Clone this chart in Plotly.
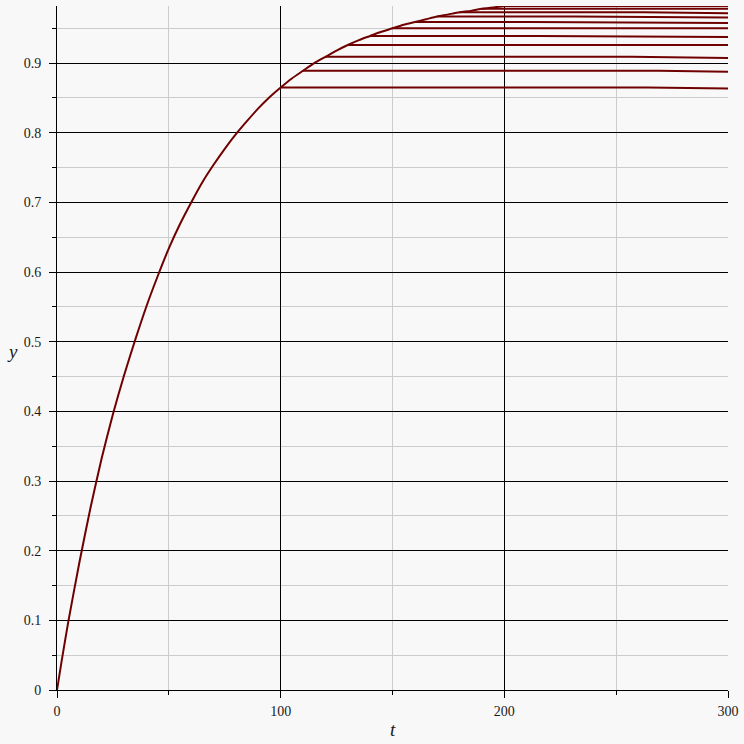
import plotly.graph_objects as go

# Rising curve
curve_t = [0, 2, 5, 10, 15, 20, 25, 30, 35, 40, 45, 50, 55, 60, 65, 70, 75, 80, 85, 90,
           95, 100, 105, 110, 115, 120, 125, 130, 135, 140, 145, 150, 155, 160, 165, 170,
           175, 180, 185, 190, 195, 200]
curve_y = [0.0, 0.040, 0.097, 0.183, 0.262, 0.333, 0.396, 0.452, 0.503, 0.551, 0.594, 0.634,
           0.669, 0.700, 0.729, 0.754, 0.777, 0.798, 0.817, 0.835, 0.851, 0.865, 0.878,
           0.889, 0.900, 0.909, 0.918, 0.926, 0.933, 0.939, 0.945, 0.950, 0.955, 0.959,
           0.963, 0.967, 0.970, 0.973, 0.975, 0.978, 0.980, 0.982]

# Horizontal branches: start time, level, time of the small drop, level at t=300
branch_start = [100, 110, 120, 130, 140, 150, 160, 170, 180, 190, 200]
branch_level = [0.865, 0.889, 0.909, 0.926, 0.939, 0.950, 0.959, 0.967, 0.973, 0.978, 0.982]
branch_drop_t = [264, 269, 257, 300, 215, 300, 211, 231, 262, 300, 300]
branch_end = [0.8635, 0.8875, 0.9075, 0.926, 0.9375, 0.950, 0.9575, 0.9655, 0.9715, 0.978, 0.982]
t_end = 300

x_ticks = [0, 100, 200, 300]
y_ticks = [0, 0.1, 0.2, 0.3, 0.4, 0.5, 0.6, 0.7, 0.8, 0.9]
y_tick_text = ["0", "0.1", "0.2", "0.3", "0.4", "0.5", "0.6", "0.7", "0.8", "0.9"]

line_color = "#700000"
fig = go.Figure()
fig.add_trace(go.Scatter(x=curve_t, y=curve_y, mode="lines",
                         line=dict(color=line_color, width=2, shape="spline", smoothing=0.6),
                         showlegend=False))
for ts, lv, td, le in zip(branch_start, branch_level, branch_drop_t, branch_end):
    xs = [ts, td, t_end] if td < t_end else [ts, t_end]
    ys = [lv, lv, le] if td < t_end else [lv, le]
    fig.add_trace(go.Scatter(x=xs, y=ys, mode="lines",
                             line=dict(color=line_color, width=2), showlegend=False))

serif = "'Liberation Serif', 'Times New Roman', serif"
font = dict(family=serif, size=14, color="#1a1a1a")
title_font = dict(family=serif, size=19, color="#1a1a1a")
fig.update_layout(
    width=744, height=744,
    margin=dict(l=57, r=16, t=6, b=54),
    paper_bgcolor="#f8f8f8", plot_bgcolor="#f8f8f8",
    font=font,
    xaxis=dict(range=[0, 300], tickvals=x_ticks, ticks="outside", ticklen=7,
               tickcolor="black", showline=True, linecolor="black", linewidth=1,
               showgrid=True, gridcolor="black", gridwidth=1, zeroline=False,
               tickfont=font, ticklabelstandoff=1,
               minor=dict(dtick=50, tick0=0, ticks="outside", ticklen=4, tickcolor="black",
                          showgrid=True, gridcolor="#cccccc", gridwidth=1)),
    yaxis=dict(range=[0, 0.982], tickvals=y_ticks, ticktext=y_tick_text,
               ticks="outside", ticklen=7,
               tickcolor="black", showline=True, linecolor="black", linewidth=1,
               showgrid=True, gridcolor="black", gridwidth=1, zeroline=False,
               tickfont=font, ticklabelstandoff=5,
               minor=dict(dtick=0.05, tick0=0, ticks="outside", ticklen=4, tickcolor="black",
                          showgrid=True, gridcolor="#cccccc", gridwidth=1)),
    annotations=[
        dict(text="<i>t</i>", x=0.5, y=-0.058, xref="paper", yref="paper",
             showarrow=False, font=title_font, xanchor="center", yanchor="middle"),
        dict(text="<i>y</i>", x=-0.067, y=0.495, xref="paper", yref="paper",
             showarrow=False, font=title_font, xanchor="center", yanchor="middle"),
    ],
)
fig.write_html("out.html", config={"displayModeBar": False},
               post_script="document.body.style.margin='0';document.body.style.background='#f8f8f8';")
